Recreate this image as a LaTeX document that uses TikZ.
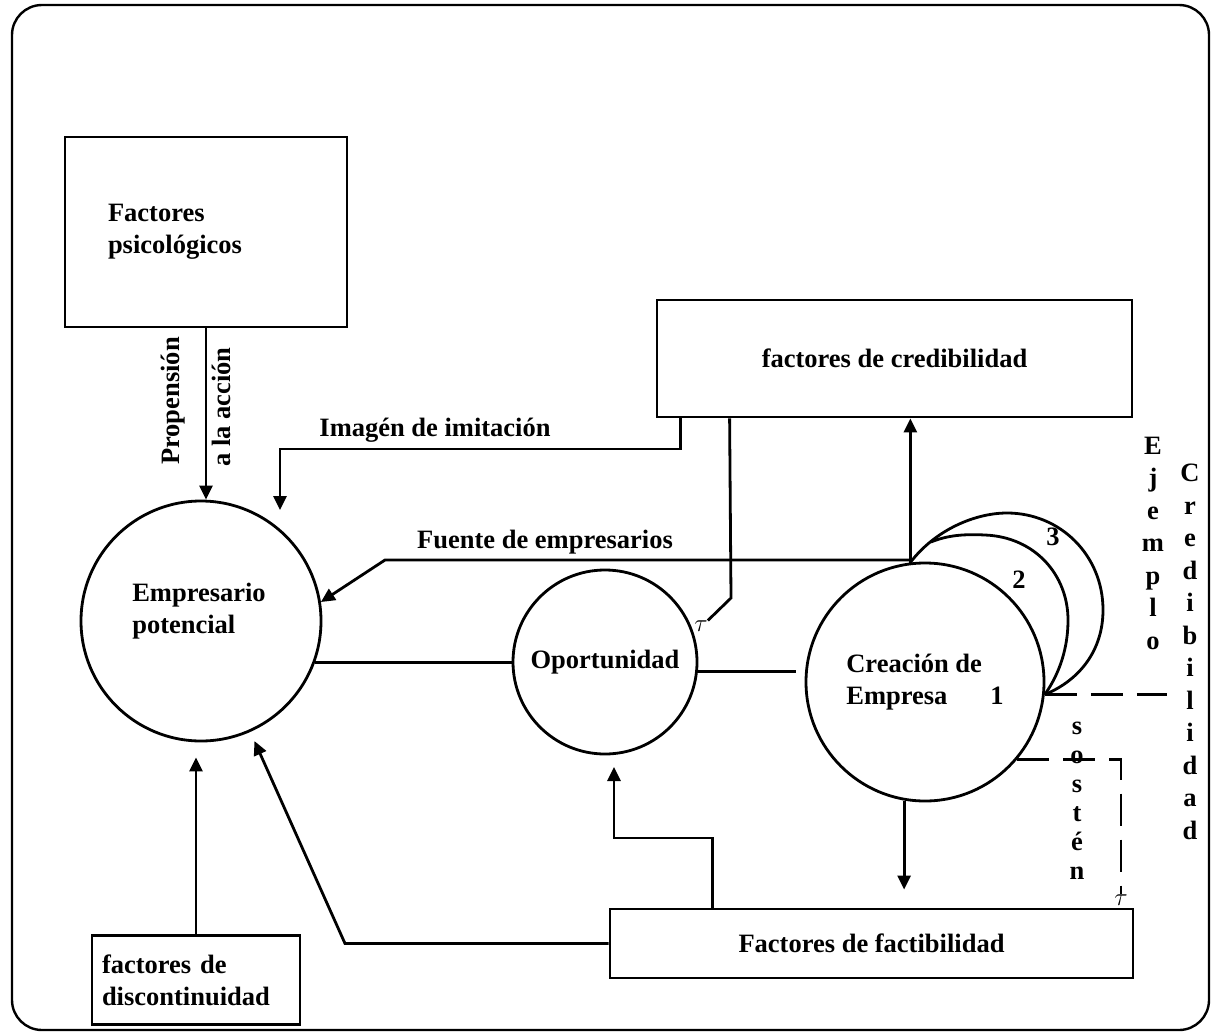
\documentclass[tikz,border=0pt]{standalone}
\usepackage{fontspec}
\setmainfont{Liberation Serif}
\usetikzlibrary{arrows.meta}
\newcommand{\letraDiag}{\fontsize{26.5}{32}\selectfont\bfseries}
\tikzset{
  caja/.style={draw, rectangle, line width=2.8pt, inner sep=0pt},
  circulo/.style={draw, circle, line width=2.8pt, inner sep=0pt},
  linea/.style={line width=2.8pt},
  flecha/.style={line width=2.8pt, -{Triangle[length=14pt, width=13pt]}},
  discont/.style={line width=2.8pt, dash pattern=on 32pt off 14pt},
  letra/.style={anchor=base, inner sep=0pt},
  tau/.style={inner sep=0pt, font=\fontsize{34}{34}\selectfont\mdseries}
}
\begin{document}
\begin{tikzpicture}[x=1pt, y=-1pt, font=\letraDiag]
  \useasboundingbox (0,0) rectangle (1212,1033);
  \draw[line width=2.4pt, rounded corners=30pt] (12,5) rectangle (1209,1030);

  % cajas
  \node[caja, minimum width=282pt, minimum height=190pt, text width=196pt, inner xsep=43pt, align=left] (psico) at (206,232) {Factores\\psicológicos};
  \node[caja, minimum width=208pt, minimum height=89pt, text width=188pt, inner xsep=10pt, align=left] (disc) at (196,980) {factores de\\discontinuidad};
  \node[caja, minimum width=475pt, minimum height=117pt] (cred) at (894.5,358.5) {factores de credibilidad};
  \node[caja, minimum width=523pt, minimum height=69pt] (fact) at (871.5,943.5) {Factores de factibilidad};

  % circulos
  \node[circulo, minimum size=240pt] (emp) at (201,621) {};
  \node[align=left] (empT) at (199,611) {Empresario\\potencial};
  \node[circulo, minimum size=184pt] (op) at (605,662) {Oportunidad};
  \node[circulo, minimum size=238pt, align=left] (cre) at (925,682) {Creación de\\Empresa\hspace{43pt}1};
  \draw[linea] (cre.97) .. controls (935,530) and (975,513) .. (1007,513)
    .. controls (1060,513) and (1103,555) .. (1103,610)
    .. controls (1103,650) and (1080,680) .. (cre.-6);
  \draw[linea] (931,542) .. controls (948,535) and (965,534) .. (985,535)
    .. controls (1035,537) and (1068,575) .. (1068,620)
    .. controls (1068,655) and (1055,680) .. (cre.-6);
  \node (n3) at (1053,537) {3};
  \node (n2) at (1019,580) {2};

  % conectores
  \draw[flecha] (psico.south) -- (psico.south |- emp.north);
  \node[rotate=90, anchor=west, inner sep=0pt] (prop) at (173,465) {Propensión};
  \node[rotate=90, anchor=west, inner sep=0pt] (accion) at (221,467) {a la acción};

  \coordinate (imgFin) at (280,510);
  \draw[flecha] ([xshift=25pt]cred.south west) |- (280,449) -- (imgFin);
  \node (imgL) at (435,430) {Imagén de imitación};

  \node[tau] (tau1) at (701,626) {$\tau$};
  \draw[linea] ([xshift=74pt]cred.south west) -- (731,598) -- (tau1.north east);

  \coordinate (fu) at (909,560);
  \draw[flecha] (cre.97) -- (cre.97 |- cred.south);
  \draw[flecha] (fu) -- (385,560) -- (emp.9);
  \node (fuL) at (545,542) {Fuente de empresarios};

  \draw[linea] (emp.-20) -- (op.west |- emp.-20);
  \draw[linea, shorten >=9pt] (op.-6) -- (op.-6 -| cre.west);

  \draw[flecha, shorten >=18pt] (cre.-100) -- (cre.-100 |- fact.north);
  \draw[flecha] ([xshift=104pt]fact.north west) |- (614,838) -- (614,767);
  \draw[flecha, shorten >=10pt] (fact.west) -- (345,943.5) -- (emp.-66);
  \draw[flecha, shorten >=15pt] (disc.north) -- (disc.north |- emp.south);

  \node[tau] (tau2) at (1121,900) {$\tau$};
  \draw[discont] (cre.-40) -| (tau2.north);
  \draw[discont] (cre.-6) -- ++(122,0);

  % letras verticales
  \foreach \l [count=\i] in {E,j,e,m,p,l,o}
    \node[letra] (ej\i) at (1153, 421.5+32.5*\i) {\l};
  \foreach \l [count=\i] in {C,r,e,d,i,b,i,l,i,d,a,d}
    \node[letra] (cr\i) at (1190, 449+32.5*\i) {\l};
  \foreach \l [count=\i] in {s,o,s,t,é,n}
    \node[letra] (so\i) at (1077, 705+29*\i) {\l};
\end{tikzpicture}
\end{document}
